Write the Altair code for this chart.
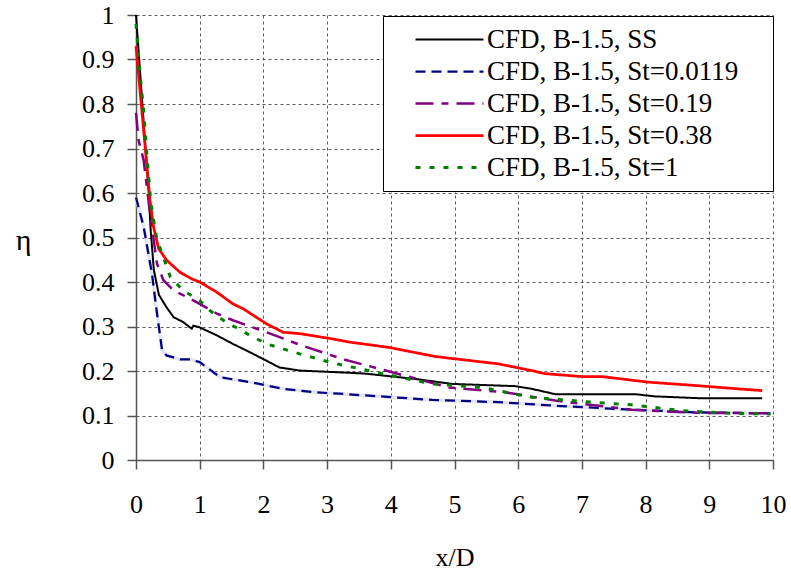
import altair as alt
import pandas as pd

series_names = ["CFD, B-1.5, SS", "CFD, B-1.5, St=0.0119", "CFD, B-1.5, St=0.19",
                "CFD, B-1.5, St=0.38", "CFD, B-1.5, St=1"]

ss_x = [0, 0.2, 0.23, 0.28, 0.36, 0.48, 0.59, 0.74, 0.875, 0.9, 1.0, 1.27, 1.52, 1.79, 2.05,
        2.25, 2.57, 3.35, 3.61, 4.39, 4.96, 5.95, 6.21, 6.58, 7.83, 8.14, 8.82, 9.83]
ss_y = [1.0, 0.60, 0.517, 0.427, 0.371, 0.343, 0.321, 0.31, 0.295, 0.302, 0.298, 0.28, 0.261,
        0.242, 0.223, 0.208, 0.201, 0.196, 0.194, 0.182, 0.171, 0.166, 0.16, 0.148, 0.148,
        0.143, 0.139, 0.139]

b_x = [0, 0.12, 0.25, 0.33, 0.41, 0.48, 0.69, 0.85, 1.0, 1.32, 1.79, 2.31, 2.83, 3.19, 3.61,
       4.65, 5.69, 6.58, 7.78, 8.82, 9.96]
b_y = [0.59, 0.524, 0.419, 0.329, 0.246, 0.235, 0.226, 0.226, 0.22, 0.186, 0.175, 0.16, 0.152,
       0.149, 0.145, 0.135, 0.13, 0.122, 0.113, 0.107, 0.105]

p_x = [0, 0.04, 0.12, 0.17, 0.22, 0.33, 0.43, 0.59, 0.8, 1.0, 1.27, 1.52, 2.05, 2.57, 3.24,
       3.92, 4.91, 5.80, 6.58, 7.78, 8.82, 9.96]
p_y = [0.78, 0.719, 0.674, 0.614, 0.554, 0.441, 0.404, 0.381, 0.366, 0.351, 0.329, 0.314,
       0.287, 0.259, 0.227, 0.201, 0.163, 0.152, 0.1335, 0.113, 0.106, 0.105]

r_x = [0, 0.22, 0.275, 0.355, 0.48, 0.69, 0.875, 1.0, 1.27, 1.52, 1.68, 2.05, 2.31, 2.57, 3.09,
       3.35, 3.97, 4.70, 5.69, 6.21, 6.42, 7.0, 7.31, 8.04, 8.82, 9.44, 9.83]
r_y = [0.93, 0.583, 0.524, 0.475, 0.449, 0.422, 0.407, 0.40, 0.377, 0.351, 0.34, 0.306, 0.287,
       0.284, 0.272, 0.265, 0.253, 0.2325, 0.216, 0.201, 0.194, 0.1875, 0.1875, 0.175, 0.167,
       0.160, 0.156]

g_x = [0, 0.07, 0.12, 0.17, 0.22, 0.25, 0.33, 0.43, 0.54, 0.74, 1.0, 1.16, 1.37, 1.79, 2.05,
       2.57, 3.09, 3.35, 3.87, 4.65, 5.43, 6.21, 7.15, 7.78, 8.56, 9.34, 9.96]
g_y = [0.98, 0.857, 0.786, 0.689, 0.599, 0.561, 0.494, 0.456, 0.411, 0.381, 0.3585, 0.336,
       0.314, 0.28, 0.261, 0.2385, 0.218, 0.21, 0.194, 0.171, 0.163, 0.141, 0.13, 0.124, 0.111,
       0.105, 0.1035]

colors = ["#000000", "#000080", "#800080", "#FF0000", "#008000"]
dashes = [[1, 0], [10, 6], [18, 8, 7, 8], [1, 0], [5, 9]]
widths = [2, 3, 3, 2.5, 3]

rows = []
for name, xs, ys in zip(series_names, [ss_x, b_x, p_x, r_x, g_x], [ss_y, b_y, p_y, r_y, g_y]):
    for i, (xv, yv) in enumerate(zip(xs, ys)):
        rows.append({"series": name, "x": xv, "y": yv, "i": i})
df = pd.DataFrame(rows)

FONT = "Liberation Serif"

x_enc = alt.X("x:Q", scale=alt.Scale(domain=[0, 10], nice=False),
              axis=alt.Axis(values=list(range(11)), title="x/D", labelPadding=22,
                            labelFlush=False,
                            titleY=105, titleBaseline="alphabetic", titleFontSize=26))
y_enc = alt.Y("y:Q", scale=alt.Scale(domain=[0, 1], nice=False),
              axis=alt.Axis(values=[i / 10 for i in range(11)], format=".1~f", title="η",
                            labelPadding=13, labelFlush=False,
                            titleAngle=0, titleX=-113, titleY=225,
                            titleAlign="center", titleBaseline="middle", titleFontSize=30))

# white (invisible) title on the right only widens the legend box
legend = alt.Legend(title=".", titleOrient="right", titleColor="white", titleFontSize=27,
                    titlePadding=18, titleFont=FONT,
                    orient="none", legendX=247, legendY=1, direction="vertical",
                    strokeColor="black", fillColor="white", padding=10,
                    symbolType="M -3 0 H 3", symbolSize=514, symbolOffset=43,
                    labelFont=FONT, labelFontSize=27, labelColor="black", labelLimit=500,
                    rowPadding=4, labelOffset=24)

base = alt.Chart(df).encode(
    x=x_enc, y=y_enc, order="i:Q",
    color=alt.Color("series:N", scale=alt.Scale(domain=series_names, range=colors), legend=legend),
    strokeDash=alt.StrokeDash("series:N", scale=alt.Scale(domain=series_names, range=dashes), legend=legend),
    strokeWidth=alt.StrokeWidth("series:N", scale=alt.Scale(domain=series_names, range=widths), legend=legend),
)

halo = alt.Chart(df).transform_filter(alt.datum.series == series_names[1]).mark_line(
    color="#E4E4F6", strokeWidth=3.5).encode(x=x_enc, y=y_enc, order="i:Q")

layers = [halo]
for name in series_names:
    layers.append(base.transform_filter(alt.datum.series == name).mark_line())

chart = alt.layer(*layers).properties(
    width=637, height=445,
    background="white",
    autosize=alt.AutoSizeParams(type="none"),
    padding={"left": 136, "top": 15, "right": 18, "bottom": 111},
).configure_view(stroke=None).configure_axis(
    labelFont=FONT, labelFontSize=26, labelColor="black",
    titleFont=FONT, titleColor="black", titleFontWeight="normal",
    gridColor="#5a5a5a", gridDash=[3, 3], gridWidth=1, gridOpacity=1,
    domainColor="#555555", domainWidth=1.5,
    tickColor="#555555", tickSize=9, tickWidth=1.5,
)

chart.save("out.html", embed_options={"renderer": "svg", "actions": False})
